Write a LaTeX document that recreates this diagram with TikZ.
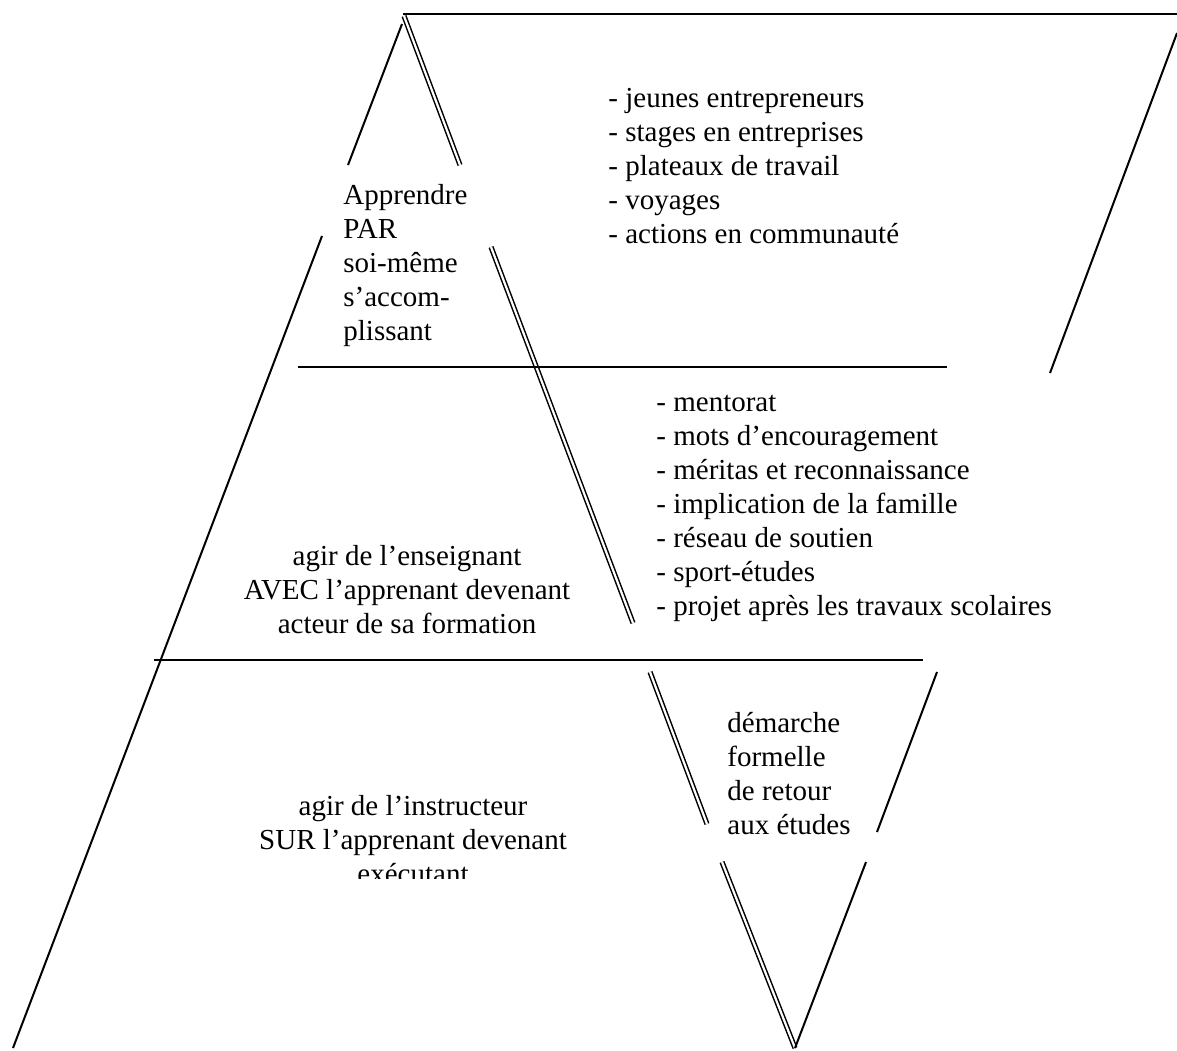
\documentclass[tikz,border=0pt]{standalone}
\usepackage{fontspec}
\setmainfont{Liberation Serif}

\tikzset{
  txt/.style={inner sep=0pt, align=left, font=\fontsize{14.5}{17}\selectfont},
  ctxt/.style={txt, align=center},
  trait/.style={line width=1pt},
  dbl/.style={double, line width=0.75pt, double distance=1.1pt},
}

\begin{document}
\begin{tikzpicture}[x=0.5pt, y=-0.5pt]
\useasboundingbox (0,0) rectangle (1177,1050);

% outer frame
\coordinate (apex) at (403,14);
\coordinate (topR) at (1177,14);
\coordinate (rA) at (1177,33);
\coordinate (rB) at (1050,373);

% left side of the big triangle
\coordinate (lA) at (402,24);
\coordinate (lB) at (348,165);
\coordinate (lC) at (322,236);
\coordinate (lD) at (13,1048);

% double side
\coordinate (dA) at (404,16);
\coordinate (dB) at (460,165);
\coordinate (dC) at (491,247);
\coordinate (dD) at (633,623);

% levels
\coordinate (h1L) at (298,367);
\coordinate (h1R) at (947,367);
\coordinate (h2L) at (154,660);
\coordinate (h2R) at (923,660);

% small inverted triangle
\coordinate (vA) at (650,672);
\coordinate (vB) at (707,824);
\coordinate (vC) at (722,862);
\coordinate (wA) at (937,672);
\coordinate (wB) at (877,832);
\coordinate (wC) at (866,862);
\coordinate (bot) at (795,1048);

\draw[trait] (apex) -- (topR);
\draw[trait] (rA) -- (rB);
\draw[trait] (lA) -- (lB);
\draw[trait] (lC) -- (lD);
\draw[dbl] (dA) -- (dB);
\draw[dbl] (dC) -- (dD);
\draw[trait] (h1L) -- (h1R);
\draw[trait] (h2L) -- (h2R);
\draw[dbl] (vA) -- (vB);
\draw[dbl] (vC) -- (bot);
\draw[trait] (wA) -- (wB);
\draw[trait] (wC) -- (bot);

% texts (base = last line)
\node[txt, anchor=base west] (learn) at (343,340)
  {Apprendre\\PAR\\soi-même\\s’accom-\\plissant};
\node[txt, anchor=base west] (listA) at (608,243)
  {- jeunes entrepreneurs\\- stages en entreprises\\- plateaux de travail\\- voyages\\- actions en communauté};
\node[txt, anchor=base west] (listB) at (656,615)
  {- mentorat\\- mots d’encouragement\\- méritas et reconnaissance\\- implication de la famille\\- réseau de soutien\\- sport-études\\- projet après les travaux scolaires};
\node[ctxt, anchor=base] (avec) at (407,633)
  {agir de l’enseignant\\AVEC l’apprenant devenant\\acteur de sa formation};
\begin{scope}
  \clip (200,760) rectangle (650,878);
  \node[ctxt, anchor=base] (sur) at (413,883)
    {agir de l’instructeur\\SUR l’apprenant devenant\\exécutant};
\end{scope}
\node[txt, anchor=base west] (retour) at (727,834)
  {démarche\\formelle\\de retour\\aux études};

\end{tikzpicture}
\end{document}
